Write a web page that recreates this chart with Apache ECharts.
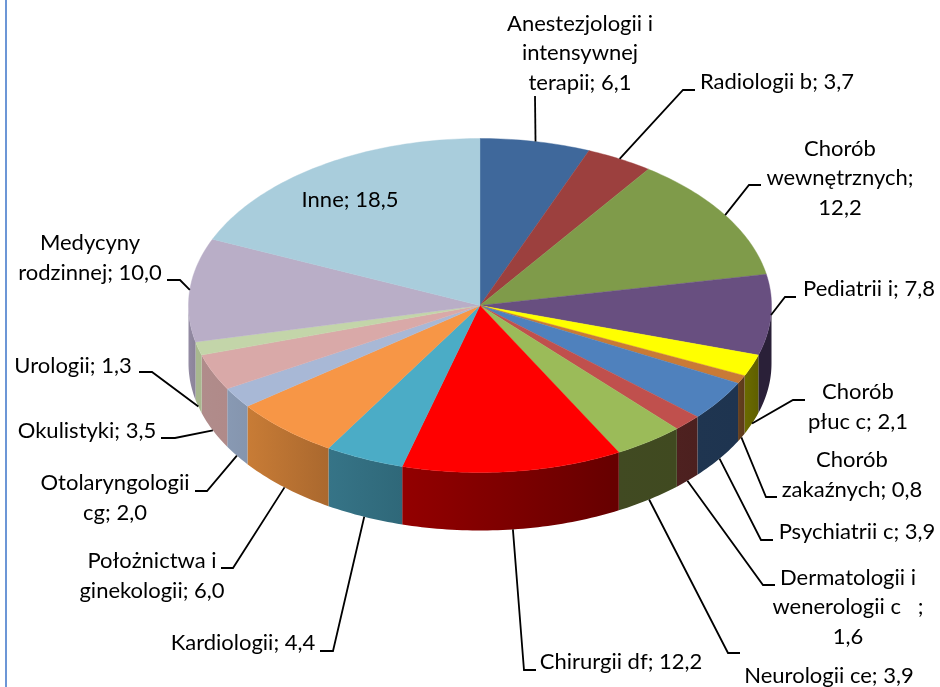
<!DOCTYPE html>
<html><head><meta charset="utf-8">
<style>html,body{margin:0;padding:0;background:#fff}#c{width:940px;height:687px}</style>
<script src="https://cdn.jsdelivr.net/npm/echarts@6/dist/echarts.min.js"></script>
</head><body><div id="c"></div>
<script>
// Data
const categories = ["Anestezjologii i intensywnej terapii","Radiologii b","Chorób wewnętrznych","Pediatrii i","Chorób płuc c","Chorób zakaźnych","Psychiatrii c","Dermatologii i wenerologii c","Neurologii ce","Chirurgii df","Kardiologii","Położnictwa i ginekologii","Otolaryngologii cg","Okulistyki","Urologii","Medycyny rodzinnej","Inne"];
const values = [6.1,3.7,12.2,7.8,2.1,0.8,3.9,1.6,3.9,12.2,4.4,6.0,2.0,3.5,1.3,10.0,18.5];
const labelTexts = ["Anestezjologii i\nintensywnej\nterapii; 6,1","Radiologii b; 3,7","Chorób\nwewnętrznych;\n12,2","Pediatrii i; 7,8","Chorób\npłuc c; 2,1","Chorób\nzakaźnych; 0,8","Psychiatrii c; 3,9","Dermatologii i\nwenerologii c   ;\n1,6","Neurologii ce; 3,9","Chirurgii df; 12,2","Kardiologii; 4,4","Położnictwa i\nginekologii; 6,0","Otolaryngologii\ncg; 2,0","Okulistyki; 3,5","Urologii; 1,3","Medycyny\nrodzinnej; 10,0","Inne; 18,5"];
// Styling and layout
const topColors = ["#3f689b","#9c403e","#7f9b4a","#684f80","#ffff00","#c97a36","#4f81bd","#c0504d","#9bbb59","#ff0000","#4bacc6","#f79646","#a8b8d6","#d9a9a8","#c3d5a9","#b9aec7","#a9cddc"];
const wallColors = [null,null,null,["#2a2038","#2a2038"],["#6b6b00","#5f5f00"],["#66401e","#5c3a1b"],["#1f3550","#1e3450"],["#4e2120","#4c201f"],["#414a22","#404a20"],["#930000","#660000"],["#367487","#2f6879"],["#c87c36","#aa682e"],["#8899b3","#8595ae"],["#b08c8b","#b08a89"],["#a8b88f","#a8b88f"],["#938ba3","#8b8399"],null];
const labelCenters = [[580,53],[777,82],[840,178],[869,289],[858,407],[852,475],[857,532],[848,607],[829,676],[621,662],[243,643],[152,576],[115,498],[87,431],[73,366],[90,258],[350,200]];
const leaderBends = [[535,96,535],[683,90,695],[749,185,761],[785,297,796],[793,400,805],[766,497,777],[761,540,773],[763,585,775],[728,653,740],[524,670,536],[333,651,320],[233,568,221],[207,491,195],[175,438,161],[152,372,139],[180,280,167],null];
const pie = {cx:480, cy:305.5, rx:291.5, ry:167, depth:58};

const total = values.reduce((a,b)=>a+b,0);
const startAngles = []; let acc = 0;
values.forEach(v=>{startAngles.push(acc/total*Math.PI*2); acc+=v;});
const onEllipse = (a,dy)=>[pie.cx+pie.rx*Math.sin(a), pie.cy-pie.ry*Math.cos(a)+(dy||0)];
function arc(a0,a1,dy){
  const n=Math.max(2,Math.ceil((a1-a0)/(Math.PI/180))), pts=[];
  for(let i=0;i<=n;i++) pts.push(onEllipse(a0+(a1-a0)*i/n,dy));
  return pts;
}
function renderItem(params, api){
  const i=params.dataIndex, v=api.value(0);
  const a0=startAngles[i], a1=a0+v/total*Math.PI*2, mid=(a0+a1)/2;
  const children=[];
  const lo=Math.PI/2, hi=Math.PI*1.5;
  const w0=Math.max(a0,lo), w1=Math.min(a1,hi);
  if(w1>w0 && wallColors[i]){
    const pts=arc(w0,w1,0).concat(arc(w0,w1,pie.depth).reverse());
    const fill=new echarts.graphic.LinearGradient(0,0,1,0,[{offset:0,color:wallColors[i][0]},{offset:1,color:wallColors[i][1]}]);
    children.push({type:'polygon',shape:{points:pts},style:{fill:fill}});
  }
  const top=[[pie.cx,pie.cy]].concat(arc(a0,a1,0));
  children.push({type:'polygon',shape:{points:top},style:{fill:topColors[i],stroke:topColors[i],lineWidth:0.4}});
  const b=leaderBends[i];
  if(b){
    const onWall=Math.cos(mid)<-0.1;
    const p=onEllipse(mid,onWall?pie.depth:0);
    const pts=[p,[b[0],b[1]],[b[2],b[1]]];
    children.push({type:'polyline',z2:5,shape:{points:pts},style:{fill:null,stroke:'#000',lineWidth:1.8}});
  }
  children.push({type:'text',z2:6,style:{text:labelTexts[i],x:labelCenters[i][0],y:labelCenters[i][1],align:'center',verticalAlign:'middle',font:'22px Lato, "Open Sans", sans-serif',lineHeight:29.5,fill:'#000'}});
  return {type:'group',children:children};
}
const chart=echarts.init(document.getElementById('c'),null,{renderer:'canvas'});
chart.setOption({
  animation:false,
  backgroundColor:'#fff',
  graphic:[{type:'rect',shape:{x:5,y:0,width:2,height:687},style:{fill:'#6c96d6'},silent:true}],
  series:[{type:'custom',coordinateSystem:'none',silent:true,renderItem:renderItem,
    data:values.map((v,i)=>({name:categories[i],value:[v]}))}]
});
</script></body></html>
